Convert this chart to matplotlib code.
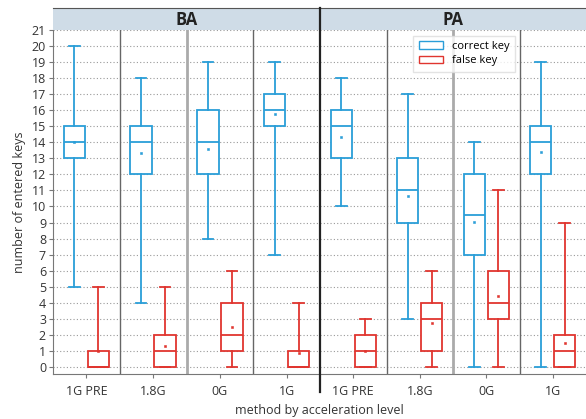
import matplotlib
matplotlib.use("Agg")
import matplotlib.pyplot as plt
from matplotlib.patches import Patch, Rectangle
from matplotlib.lines import Line2D

plt.rcParams['font.family'] = ['Open Sans', 'DejaVu Sans']

panels = ["BA", "PA"]
levels = ["1G PRE", "1.8G", "0G", "1G"]

# whisker low, q1, median, q3, whisker high, mean
ba_correct = [(5, 13, 14, 15, 20, 14.05), (4, 12, 14, 15, 18, 13.35),
              (8, 12, 14, 16, 19, 13.6), (7, 15, 16, 17, 19, 15.75)]
ba_false = [(0, 0, 0, 1, 5, 1.0), (0, 0, 1, 2, 5, 1.3),
            (0, 1, 2, 4, 6, 2.5), (0, 0, 0, 1, 4, 0.85)]
pa_correct = [(10, 13, 15, 16, 18, 14.35), (3, 9, 11, 13, 17, 10.65),
              (0, 7, 9.5, 12, 14, 9.05), (0, 12, 14, 15, 19, 13.4)]
pa_false = [(0, 0, 1, 2, 3, 1.0), (0, 1, 3, 4, 6, 2.75),
            (0, 3, 4, 6, 11, 4.4), (0, 0, 1, 2, 9, 1.5)]

blue = '#2a9ed8'
red = '#e0352f'


def to_stats(rows):
    return [dict(whislo=r[0], q1=r[1], med=r[2], q3=r[3], whishi=r[4], mean=r[5],
                 fliers=[]) for r in rows]


def draw(ax, rows, pos, color):
    ax.bxp(to_stats(rows), positions=pos, widths=0.32, showmeans=True,
           patch_artist=True,
           boxprops=dict(facecolor='white', edgecolor=color, linewidth=1.3),
           medianprops=dict(color=color, linewidth=1.3),
           whiskerprops=dict(color=color, linewidth=1.3),
           capprops=dict(color=color, linewidth=1.3),
           meanprops=dict(marker='s', markersize=1.5, markeredgewidth=0.4,
                          markerfacecolor=color, markeredgecolor=color))


fig = plt.figure(figsize=(5.86, 4.19), dpi=100)
left, right, bottom, top = 53 / 586, 1.0, 1 - 374 / 419, 1 - 30 / 419
mid = 320 / 586
strip_h = 22 / 419

data = {"BA": (ba_correct, ba_false), "PA": (pa_correct, pa_false)}
axes = []
for i, name in enumerate(panels):
    x0 = left if i == 0 else mid
    x1 = mid if i == 0 else right
    ax = fig.add_axes([x0, bottom, x1 - x0, top - bottom])
    axes.append(ax)
    xs = [1, 2, 3, 4]
    corr, fals = data[name]
    draw(ax, corr, [x - 0.18 for x in xs], blue)
    draw(ax, fals, [x + 0.18 for x in xs], red)
    ax.set_xlim(0.5, 4.5)
    ax.set_ylim(-0.44, 21)
    ax.set_yticks(range(0, 22))
    ax.set_xticks(xs)
    ax.set_xticklabels(levels)
    for y in range(0, 22):
        ax.axhline(y, color='#999999', linestyle=(0, (1, 2)), linewidth=0.8, zorder=0)
    for b in [1.5, 2.5, 3.5]:
        ax.axvline(b, color='#aaaaaa' if b == 2.5 else '#666666',
                   linewidth=2.0 if b == 2.5 else 1.0, zorder=0)
    for s in ['top', 'right']:
        ax.spines[s].set_visible(False)
    ax.spines['bottom'].set_color('#777777')
    ax.spines['left'].set_color('#777777')
    ax.tick_params(axis='both', labelsize=9, colors='#333333', length=3,
                   color='#777777', pad=2)
    ax.tick_params(axis='x', pad=5)
    if i == 1:
        ax.spines['left'].set_visible(False)
        ax.tick_params(axis='y', left=False, labelleft=False)

    # header strip
    sax = fig.add_axes([x0, top, x1 - x0, strip_h])
    sax.add_patch(Rectangle((0, 0), 1, 1, facecolor='#cfdce7', edgecolor='none',
                            transform=sax.transAxes))
    sax.set_xticks([])
    sax.set_yticks([])
    for s in ['left', 'right', 'bottom']:
        sax.spines[s].set_visible(False)
    sax.spines['top'].set_color('#555555')
    sax.text(0.5, 0.45, name, ha='center', va='center', fontsize=12,
             fontweight='bold', color='#222222', transform=sax.transAxes)

axes[0].set_ylabel("number of entered keys", fontsize=9, color='#333333', labelpad=4)
fig.text((left + right) / 2, 1 - 410 / 419, "method by acceleration level",
         ha='center', va='center', fontsize=9, color='#333333')

# thick divider between panels
fig.add_artist(Line2D([mid, mid], [1 - 392 / 419, 1 - 8 / 419], color='#222222',
                      linewidth=1.6, transform=fig.transFigure))

handles = [Patch(facecolor='white', edgecolor=blue, label='correct key'),
           Patch(facecolor='white', edgecolor=red, label='false key')]
axes[1].legend(handles=handles, loc='upper left', bbox_to_anchor=(0.33, 1.0),
               fontsize=8, frameon=True, fancybox=False, edgecolor='#dddddd',
               handlelength=2.2, borderpad=0.5, labelspacing=0.3)

fig.savefig("out.png", dpi=100)
